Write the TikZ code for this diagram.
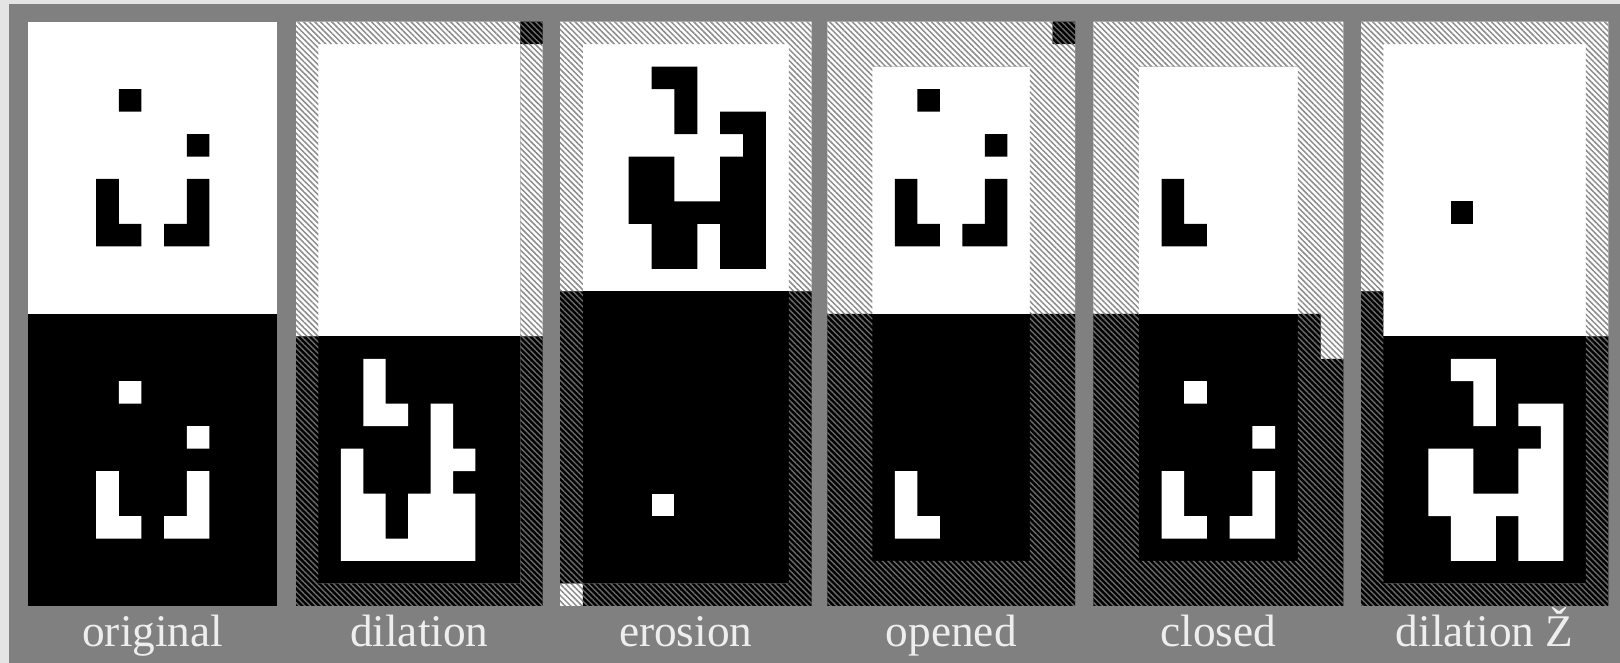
\documentclass[tikz,border=0pt]{standalone}
\usepackage{fontspec}
\setmainfont{Liberation Serif}
\usetikzlibrary{patterns.meta}

\definecolor{framegray}{HTML}{808080}
\definecolor{margingray}{HTML}{E4E4E4}
\definecolor{hatchlight}{HTML}{8C8C8C}
\definecolor{hatchdark}{HTML}{6A6A6A}
\definecolor{labeltext}{HTML}{EEEEEE}

\tikzset{
  lighthatch/.style={fill=white,
    postaction={pattern={Lines[angle=-45,distance=4bp,line width=1.5bp]}, pattern color=hatchlight}},
  darkhatch/.style={fill=black,
    postaction={pattern={Lines[angle=-45,distance=4bp,line width=1.4bp]}, pattern color=hatchdark}},
  caption/.style={text=labeltext, font=\fontsize{45.5}{54}\selectfont, anchor=base, inner sep=0pt},
}

% fill a list of cell blocks c/r/w/h (column, row, width, height in cells)
\newcommand\blocks[2]{\path[#1] \foreach \c/\r/\w/\h in {#2} {(\c,\r) rectangle ++(\w,\h)};}

\begin{document}
\begin{tikzpicture}[x=1bp, y=-1bp]
  \useasboundingbox (0,0) rectangle (1620,663);
  \fill[margingray] (0,0) rectangle (1620,663);
  \fill[framegray] (9,4) rectangle (1620,663);

  % ---- original ----
  \begin{scope}[shift={(28.3,21.7)}, x=22.636bp, y=-22.47bp]
    \blocks{fill=white}{0/0/11/13}
    \blocks{fill=black}{0/13/11/13}
    \blocks{fill=black}{4/3/1/1, 7/5/1/1, 3/7/1/3, 4/9/1/1, 7/7/1/3, 6/9/1/1}
    \blocks{fill=white}{4/16/1/1, 7/18/1/1, 3/20/1/3, 4/22/1/1, 7/20/1/3, 6/22/1/1}
  \end{scope}

  % ---- dilation ----
  \begin{scope}[shift={(296,21.7)}, x=22.43bp, y=-22.47bp]
    \blocks{fill=white}{1/1/9/13}
    \blocks{fill=black}{1/14/9/11}
    \blocks{lighthatch}{0/0/10/1, 0/1/1/13, 10/1/1/13}
    \blocks{darkhatch}{10/0/1/1, 0/14/1/12, 10/14/1/12, 1/25/9/1}
    \blocks{fill=white}{2/19/1/5, 3/15/1/3, 3/21/1/3, 4/17/1/1, 4/23/1/1, 5/21/1/3, 6/17/1/7, 7/19/1/1, 7/21/1/3}
  \end{scope}

  % ---- erosion ----
  \begin{scope}[shift={(560,21.7)}, x=22.88bp, y=-22.47bp]
    \blocks{fill=white}{1/1/9/11}
    \blocks{fill=black}{1/12/9/13}
    \blocks{lighthatch}{0/0/11/1, 0/1/1/11, 10/1/1/11, 0/25/1/1}
    \blocks{darkhatch}{0/12/1/13, 10/12/1/14, 1/25/9/1}
    \blocks{fill=black}{4/2/2/1, 5/3/1/2, 7/4/2/1, 8/5/1/1, 7/6/2/5, 3/6/2/3, 5/8/2/1, 4/9/2/2}
    \blocks{fill=white}{4/21/1/1}
  \end{scope}

  % ---- opened ----
  \begin{scope}[shift={(827.3,21.7)}, x=22.52bp, y=-22.47bp]
    \blocks{fill=white}{2/2/7/11}
    \blocks{fill=black}{2/13/7/11}
    \blocks{lighthatch}{0/0/10/1, 0/1/11/1, 0/2/2/11, 9/2/2/11}
    \blocks{darkhatch}{10/0/1/1, 0/13/2/13, 9/13/2/13, 2/24/7/2}
    \blocks{fill=black}{4/3/1/1, 7/5/1/1, 3/7/1/3, 4/9/1/1, 7/7/1/3, 6/9/1/1}
    \blocks{fill=white}{3/20/1/3, 4/22/1/1}
  \end{scope}

  % ---- closed ----
  \begin{scope}[shift={(1093.3,21.7)}, x=22.73bp, y=-22.47bp]
    \blocks{fill=white}{2/2/7/11}
    \blocks{fill=black}{2/13/7/11}
    \blocks{lighthatch}{0/0/11/2, 0/2/2/11, 9/2/2/11, 10/13/1/2}
    \blocks{darkhatch}{0/13/2/13, 9/13/1/13, 10/15/1/11, 2/24/7/2}
    \blocks{fill=black}{3/7/1/3, 4/9/1/1}
    \blocks{fill=white}{4/16/1/1, 7/18/1/1, 3/20/1/3, 4/22/1/1, 7/20/1/3, 6/22/1/1}
  \end{scope}

  % ---- dilation with the reflected element ----
  \begin{scope}[shift={(1361,21.7)}, x=22.48bp, y=-22.47bp]
    \blocks{fill=white}{1/1/9/13}
    \blocks{fill=black}{1/14/9/11}
    \blocks{lighthatch}{0/0/11/1, 0/1/1/11, 10/1/1/13}
    \blocks{darkhatch}{0/12/1/14, 10/14/1/12, 1/25/9/1}
    \blocks{fill=black}{4/8/1/1}
    \blocks{fill=white}{4/15/2/1, 5/16/1/2, 7/17/1/1, 8/17/1/7, 7/19/1/5, 3/19/2/3, 4/22/2/2, 5/21/2/1}
  \end{scope}

  % ---- captions ----
  \node[caption] (lbl-original) at (152.8,646.7) {original};
  \node[caption] (lbl-dilation) at (419.3,646.7) {dilation};
  \node[caption] (lbl-erosion)  at (685.8,646.7) {erosion};
  \node[caption] (lbl-opened)   at (951.2,646.7) {opened};
  \node[caption] (lbl-closed)   at (1218.3,646.7) {closed};
  \node[caption] (lbl-dilz)     at (1484.7,646.7) {dilation Ž};
\end{tikzpicture}
\end{document}
